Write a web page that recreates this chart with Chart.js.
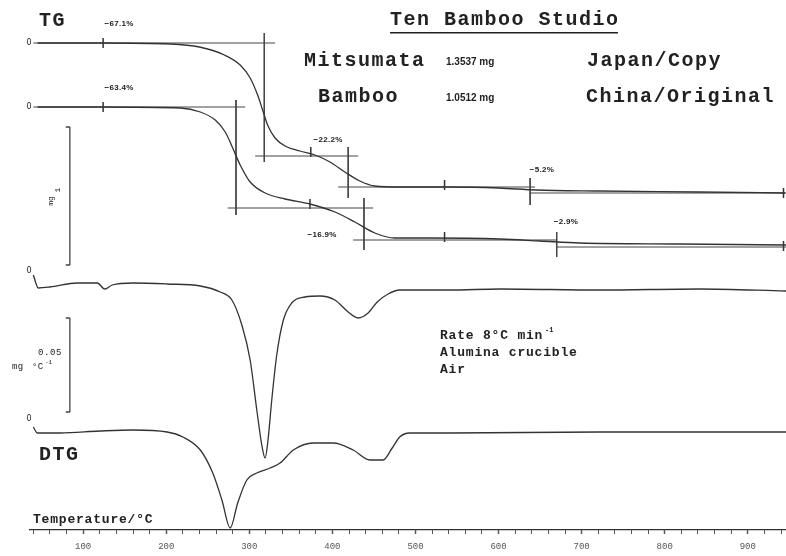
<!DOCTYPE html>
<html>
<head>
<meta charset="utf-8">
<script src="https://cdn.jsdelivr.net/npm/chart.js@4.4.0/dist/chart.umd.min.js"></script>
<style>
  html, body { margin: 0; padding: 0; background: #fff; }
</style>
</head>
<body>
<canvas id="thermo" width="786" height="556"></canvas>
<script>
// temperature in degC, trace height in offset units (0 = temperature axis, 100 = top)
const mitsuTgT = [45,120,205,240,270,289,301,310,316,322,331,343,361,379,397,415,433,451,481,540,600,645,720,840,945];
const mitsuTgU = [97.4,97.4,97.2,96.6,95,93,90.4,87,84,81,78.4,76.8,75.8,75,73.6,71.6,69.8,68.8,68.6,68.6,68.4,68,67.8,67.6,67.4];

const bambooTgT = [45,120,217,241,259,271,280,289,301,319,343,373,403,427,451,475,517,602,650,698,818,946];
const bambooTgU = [84.6,84.6,84.4,83.6,82,79.6,76.4,73,69.6,67.4,66.2,65.2,63.6,61.6,59.4,58.4,58.4,58.2,57.8,57.4,57.2,57];

const mitsuDtgT = [40,46,60,93,117,126,135,160,201,241,265,279,291,301,309,315,319,322.5,327,333,341,351,367,385,403,419,431,443,454,467,481,541,602,722,842,946];
const mitsuDtgU = [51,48.4,48.6,49.4,49.4,48.2,49,49.4,49.2,48.8,47.6,46,41,34,24,17,14.4,18,26,35,42,45.4,46.6,46.8,46,43.6,42.4,43.4,45.6,47.2,48,48,48.2,48,48.2,47.8];

const bambooDtgT = [40,45,72,120,160,201,220,241,256,267,277,286,297,309,325,337,353,377,401,425,445,461,472,481,493,541,722,946];
const bambooDtgU = [20.6,19.4,19.4,19.8,20,19.6,18.6,16,11.4,6,0.4,5.4,10,11.4,12.4,13.4,16,17.4,17.4,16,14,14,16.4,18.6,19.4,19.4,19.6,19.6];

// tangent construction lines [t1,u1,t2,u2]
const mitsuTangents = [[40,97.4,331,97.4],[318,99.4,318,73.6],[307,74.8,431,74.8],[419,76.6,419,66.4],[407,68.6,644,68.6],[638,70.4,638,65],[638,67.4,946,67.4]];
const bambooTangents = [[40,84.6,295,84.6],[284,86,284,63],[274,64.4,449,64.4],[438,66.4,438,56],[425,58,670,58],[670,59.6,670,54.6],[670,56.6,946,56.6]];

// scale bars (1 mg and 0.05 mg/degC)
const tgBar = [[84,80.6,84,53],[79,80.6,84,80.6],[79,53,84,53]];
const dtgBar = [[84,42.4,84,23.6],[79,42.4,84,42.4],[79,23.6,84,23.6]];

const markT = [124,374,535,124,373,535,943,943];
const markU = [97.4,75.6,69,84.6,65.2,58.6,67.4,56.8];

const tempMin = 36, tempMax = 946;

const ink = '#333';

function pts(t, u) { return t.map((v, i) => ({x: v, y: u[i]})); }
function segs(list) {
  let out = [];
  list.forEach(s => { out.push({x: s[0], y: s[1]}, {x: s[2], y: s[3]}, {x: s[2], y: null}); });
  return out;
}
function curve(data) {
  return {data: data, borderColor: ink, borderWidth: 1.3, pointRadius: 0, cubicInterpolationMode: 'monotone', fill: false};
}
function straight(data, w) {
  return {data: data, borderColor: '#444', borderWidth: w || 1, pointRadius: 0, tension: 0, fill: false, spanGaps: false};
}

function txt(ctx, s, x, y, font, align, spacing) {
  ctx.font = font;
  ctx.textAlign = align || 'left';
  ctx.letterSpacing = (spacing || 0) + 'px';
  ctx.fillText(s, x, y);
}

const labelsPlugin = {
  id: 'labels',
  afterDraw(chart) {
    const ctx = chart.ctx;
    ctx.save();
    ctx.fillStyle = '#222';
    ctx.textBaseline = 'middle';
    const big = 'bold 20px "Liberation Mono"';
    txt(ctx, 'TG', 39, 21, big, 'left', 1.5);
    txt(ctx, 'DTG', 39, 455, big, 'left', 1.5);
    txt(ctx, 'Ten Bamboo Studio', 390, 20, big, 'left', 1.5);
    ctx.fillRect(390, 32, 228, 1.5);
    txt(ctx, 'Mitsumata', 304, 61, big, 'left', 1.5);
    txt(ctx, 'Bamboo', 318, 97, big, 'left', 1.5);
    txt(ctx, 'Japan/Copy', 587, 61, big, 'left', 1.5);
    txt(ctx, 'China/Original', 586, 97, big, 'left', 1.5);
    const small = 'bold 10px "Liberation Sans"';
    txt(ctx, '1.3537 mg', 446, 62, small, 'left', 0);
    txt(ctx, '1.0512 mg', 446, 98, small, 'left', 0);

    const pct = 'bold 8px "Liberation Sans"';
    txt(ctx, '\u221267.1%', 119, 24, pct, 'center', 0.3);
    txt(ctx, '\u221263.4%', 119, 88, pct, 'center', 0.3);
    txt(ctx, '\u221222.2%', 328, 140, pct, 'center', 0.3);
    txt(ctx, '\u22125.2%', 542, 170, pct, 'center', 0.3);
    txt(ctx, '\u221216.9%', 322, 235, pct, 'center', 0.3);
    txt(ctx, '\u22122.9%', 566, 222, pct, 'center', 0.3);

    const zero = '8px "DejaVu Sans"';
    [43, 107, 271, 419].forEach(y => txt(ctx, '0', 29, y, zero, 'center', 0));

    const mono = 'bold 13px "Liberation Mono"';
    txt(ctx, 'Rate 8\u00b0C min', 440, 336, mono, 'left', 0.8);
    txt(ctx, '-1', 545, 330, 'bold 7px "Liberation Mono"', 'left', 0);
    txt(ctx, 'Alumina crucible', 440, 353, mono, 'left', 0.8);
    txt(ctx, 'Air', 440, 370, mono, 'left', 0.8);
    txt(ctx, 'Temperature/\u00b0C', 33, 520, mono, 'left', 0.8);

    // scale bar captions
    const tiny = '8px "Liberation Mono"';
    ctx.save();
    ctx.translate(58, 190);
    ctx.rotate(-Math.PI / 2);
    txt(ctx, '1', 0, 0, tiny, 'center', 0);
    ctx.restore();
    ctx.save();
    ctx.translate(51, 201);
    ctx.rotate(-Math.PI / 2);
    txt(ctx, 'mg', 0, 0, tiny, 'center', 0);
    ctx.restore();
    txt(ctx, '0.05', 62, 353, '9px "Liberation Mono"', 'right', 0.6);
    txt(ctx, 'mg', 12, 367, '9px "Liberation Mono"', 'left', 0.3);
    txt(ctx, '\u00b0C', 32, 367, '9px "Liberation Mono"', 'left', 0.3);
    txt(ctx, '-1', 45, 362, '6px "Liberation Mono"', 'left', 0);
    ctx.restore();
  }
};

new Chart(document.getElementById('thermo'), {
  type: 'line',
  data: {
    datasets: [
      curve(pts(mitsuTgT, mitsuTgU)),
      curve(pts(bambooTgT, bambooTgU)),
      curve(pts(mitsuDtgT, mitsuDtgU)),
      curve(pts(bambooDtgT, bambooDtgU)),
      straight(segs(mitsuTangents)),
      straight(segs(bambooTangents)),
      straight(segs(tgBar), 1.3),
      straight(segs(dtgBar), 1.3),
      {type: 'scatter', data: pts(markT, markU), showLine: false, pointStyle: 'line', rotation: 90,
       pointRadius: 5, borderColor: ink, borderWidth: 1.5, backgroundColor: ink}
    ]
  },
  options: {
    responsive: false,
    animation: false,
    events: [],
    layout: {autoPadding: false, padding: {top: 30, left: 30, right: 0, bottom: 0}},
    plugins: {legend: {display: false}, tooltip: {enabled: false}},
    scales: {
      x: {
        type: 'linear', min: tempMin, max: tempMax, position: 'bottom',
        afterFit(scale) { scale.height = 26; scale.paddingLeft = 0; scale.paddingRight = 0; },
        border: {display: true, color: '#333', width: 1.2},
        grid: {drawOnChartArea: false, drawTicks: true, tickLength: 4, color: '#555',
               tickWidth: c => (c.tick && c.tick.value % 100 === 0 ? 1.5 : 1)},
        ticks: {
          stepSize: 20, includeBounds: false, autoSkip: false, maxRotation: 0, padding: 7,
          color: '#555', font: {family: 'Liberation Mono', size: 9},
          callback: v => (v % 100 === 0 ? v : '')
        }
      },
      y: {display: false, min: 0, max: 100}
    }
  },
  plugins: [labelsPlugin]
});
</script>
</body>
</html>
